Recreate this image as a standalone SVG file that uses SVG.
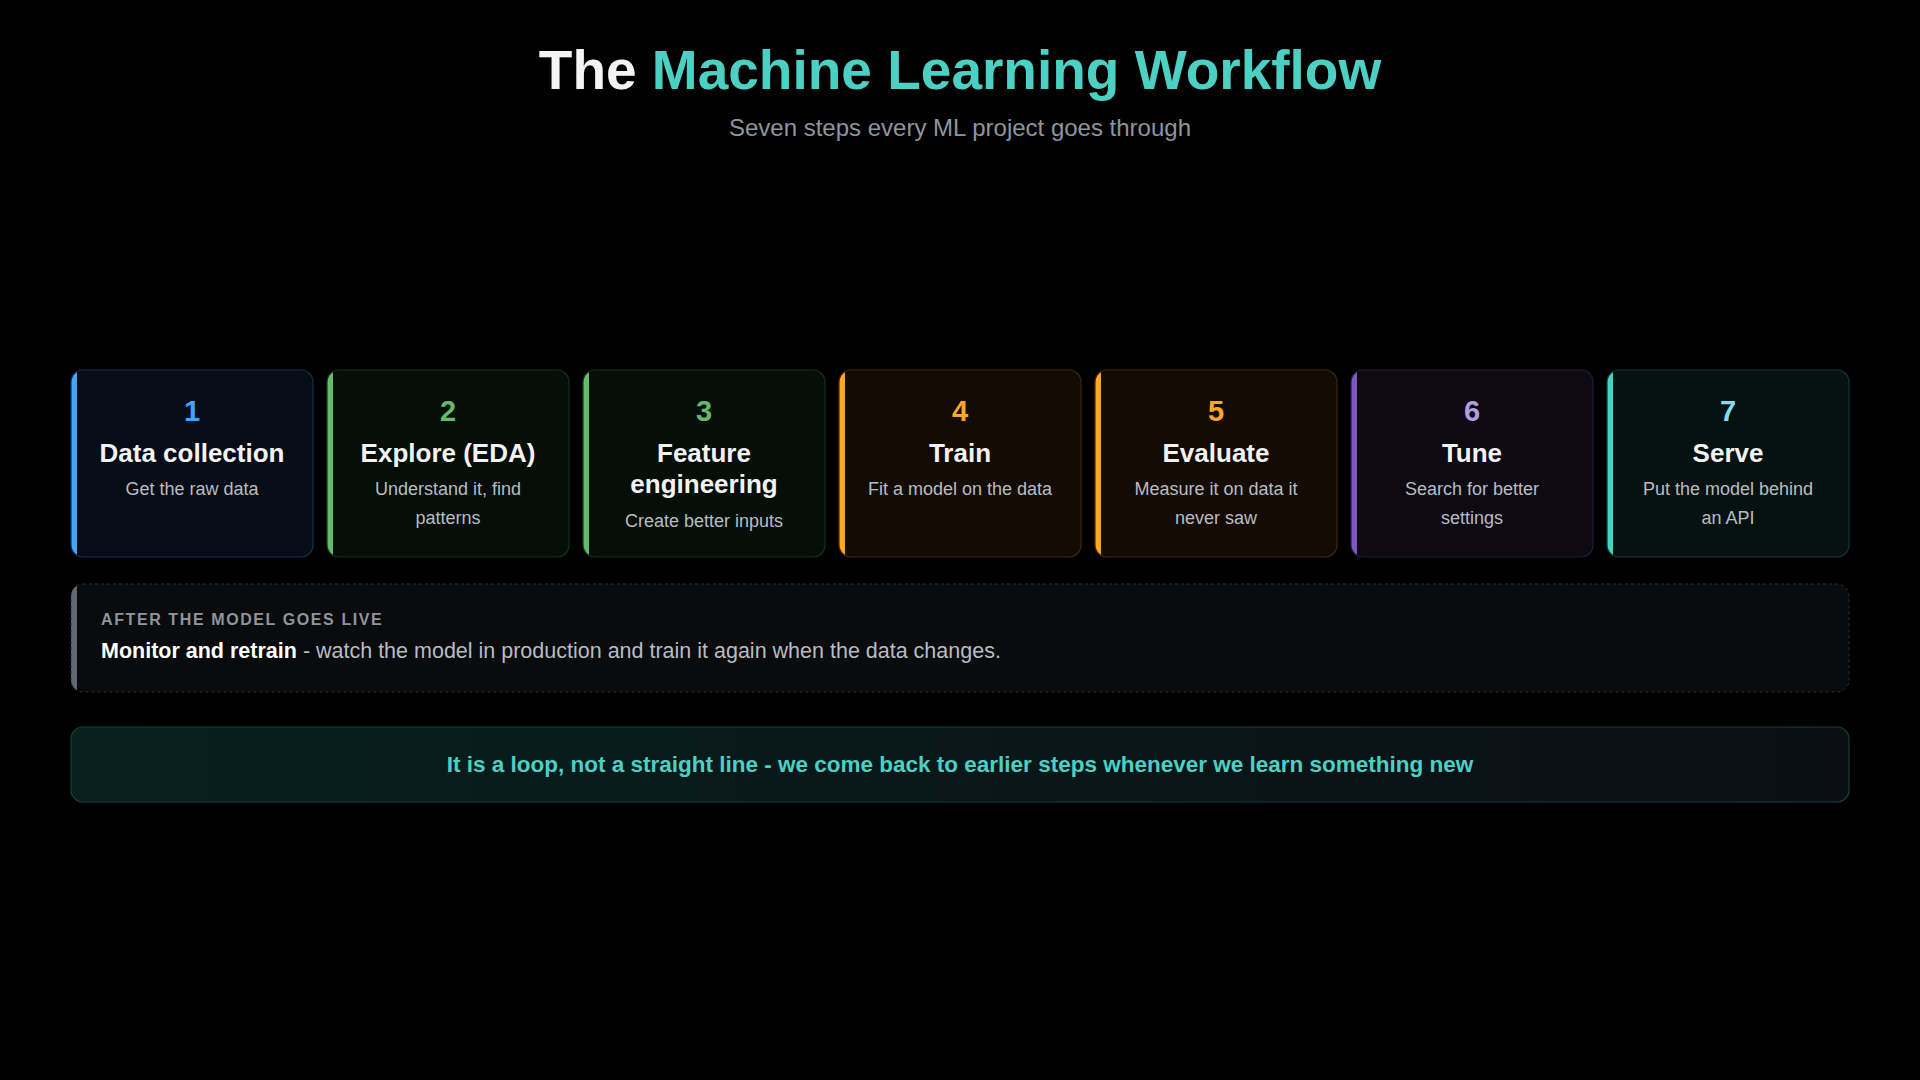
<svg xmlns="http://www.w3.org/2000/svg" width="1920" height="1080" viewBox="0 0 1920 1080">
<style>
text{font-family:"Liberation Sans",Arial,sans-serif;text-anchor:middle}
.num{font-size:29px;font-weight:bold}
.ttl{font-size:26px;font-weight:bold;fill:#f2f2f2}
.dsc{font-size:18px;fill:#b8bcc2}
.card{stroke-width:1.2}
</style>
<defs>
<clipPath id="c"><rect x="0" y="0" width="242" height="187" rx="12"/></clipPath>
<linearGradient id="lg" x1="0" x2="1"><stop offset="0" stop-color="#08201f"/><stop offset="1" stop-color="#0b0f14"/></linearGradient>
</defs>
<rect width="1920" height="1080" fill="#000"/>
<text x="960" y="89" font-size="55" font-weight="bold" fill="#f4f4f4">The <tspan fill="#4dd0c4">Machine Learning Workflow</tspan></text>
<text x="960" y="136" font-size="24" fill="#8e959e">Seven steps every ML project goes through</text>

<g id="step1" transform="translate(71,370)"><g clip-path="url(#c)"><rect width="242" height="187" fill="#060d16"/><rect width="6" height="187" fill="#42a5f5"/></g><rect width="242" height="187" rx="12" fill="none" stroke="#123050" class="card"/>
<text x="121" y="421" class="num" fill="#42a5f5" transform="translate(0,-370)">1</text>
<text x="121" y="92" class="ttl">Data collection</text><text x="121" y="125" class="dsc">Get the raw data</text></g>

<g id="step2" transform="translate(327,370)"><g clip-path="url(#c)"><rect width="242" height="187" fill="#060e08"/><rect width="6" height="187" fill="#66bb6a"/></g><rect width="242" height="187" rx="12" fill="none" stroke="#15321a" class="card"/>
<text x="121" y="51" class="num" fill="#66bb6a">2</text>
<text x="121" y="92" class="ttl">Explore (EDA)</text><text x="121" y="125" class="dsc">Understand it, find</text><text x="121" y="154" class="dsc">patterns</text></g>

<g id="step3" transform="translate(583,370)"><g clip-path="url(#c)"><rect width="242" height="187" fill="#060e08"/><rect width="6" height="187" fill="#66bb6a"/></g><rect width="242" height="187" rx="12" fill="none" stroke="#15321a" class="card"/>
<text x="121" y="51" class="num" fill="#66bb6a">3</text>
<text x="121" y="92" class="ttl">Feature</text><text x="121" y="123" class="ttl">engineering</text><text x="121" y="157" class="dsc">Create better inputs</text></g>

<g id="step4" transform="translate(839,370)"><g clip-path="url(#c)"><rect width="242" height="187" fill="#140c04"/><rect width="6" height="187" fill="#ffa726"/></g><rect width="242" height="187" rx="12" fill="none" stroke="#3a2810" class="card"/>
<text x="121" y="51" class="num" fill="#ffa726">4</text>
<text x="121" y="92" class="ttl">Train</text><text x="121" y="125" class="dsc">Fit a model on the data</text></g>

<g id="step5" transform="translate(1095,370)"><g clip-path="url(#c)"><rect width="242" height="187" fill="#140c04"/><rect width="6" height="187" fill="#ffa726"/></g><rect width="242" height="187" rx="12" fill="none" stroke="#3a2810" class="card"/>
<text x="121" y="51" class="num" fill="#ffa726">5</text>
<text x="121" y="92" class="ttl">Evaluate</text><text x="121" y="125" class="dsc">Measure it on data it</text><text x="121" y="154" class="dsc">never saw</text></g>

<g id="step6" transform="translate(1351,370)"><g clip-path="url(#c)"><rect width="242" height="187" fill="#0d0a14"/><rect width="6" height="187" fill="#7e57c2"/></g><rect width="242" height="187" rx="12" fill="none" stroke="#261d38" class="card"/>
<text x="121" y="51" class="num" fill="#b39ddb">6</text>
<text x="121" y="92" class="ttl">Tune</text><text x="121" y="125" class="dsc">Search for better</text><text x="121" y="154" class="dsc">settings</text></g>

<g id="step7" transform="translate(1607,370)"><g clip-path="url(#c)"><rect width="242" height="187" fill="#061212"/><rect width="6" height="187" fill="#4dd0c4"/></g><rect width="242" height="187" rx="12" fill="none" stroke="#123634" class="card"/>
<text x="121" y="51" class="num" fill="#80deea">7</text>
<text x="121" y="92" class="ttl">Serve</text><text x="121" y="125" class="dsc">Put the model behind</text><text x="121" y="154" class="dsc">an API</text></g>

<g id="monitor">
<clipPath id="m"><rect x="71" y="584" width="1778" height="108" rx="12"/></clipPath>
<g clip-path="url(#m)"><rect x="71" y="584" width="1778" height="108" fill="#0a0b0c"/><rect x="71" y="584" width="6" height="108" fill="#5f6873"/></g>
<rect x="71" y="584" width="1778" height="108" rx="12" fill="none" stroke="#2c3034" stroke-dasharray="3 3"/>
<text x="101" y="625" font-size="16" font-weight="bold" fill="#8e959e" letter-spacing="1.6" style="text-anchor:start">AFTER THE MODEL GOES LIVE</text>
<text x="101" y="658" font-size="21.5" fill="#b8bcc2" style="text-anchor:start"><tspan font-weight="bold" fill="#ffffff">Monitor and retrain</tspan> - watch the model in production and train it again when the data changes.</text>
</g>

<g id="loop">
<rect x="71" y="727" width="1778" height="75" rx="12" fill="url(#lg)" stroke="#15403c" stroke-width="1.2"/>
<text x="960" y="772" font-size="22.5" font-weight="bold" fill="#4dd0c4">It is a loop, not a straight line - we come back to earlier steps whenever we learn something new</text>
</g>
</svg>
